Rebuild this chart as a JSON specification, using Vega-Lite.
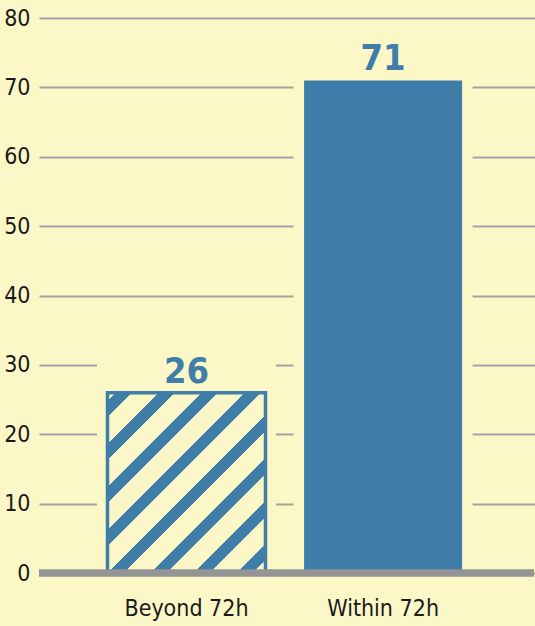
{
  "$schema": "https://vega.github.io/schema/vega-lite/v6.json",
  "width": 496,
  "height": 555,
  "autosize": {"type": "none"},
  "padding": {"left": 39, "top": 18, "right": 0, "bottom": 53},
  "background": "#fbf7c7",
  "config": {
    "view": {"stroke": null},
    "font": "DejaVu Sans Condensed, Liberation Sans Narrow, DejaVu Sans, sans-serif"
  },
  "data": {
    "values": [
      {"category": "Beyond 72h", "value": 26},
      {"category": "Within 72h", "value": 71}
    ]
  },
  "layer": [
    {
      "mark": {"type": "bar", "fill": "#fbf7c7", "stroke": "#fbf7c7", "strokeWidth": 21, "yOffset": -40},
      "encoding": {
        "x": {
          "field": "category", "type": "nominal", "sort": null,
          "scale": {"paddingInner": 0.1963, "paddingOuter": 0.3596, "align": 0.4844},
          "axis": {"domain": false, "ticks": false, "labelAngle": 0, "labelFontSize": 23, "labelColor": "#1a1a1a", "labelPadding": 42, "labelBaseline": "alphabetic", "title": null}
        },
        "y": {
          "field": "value", "type": "quantitative",
          "scale": {"domain": [0, 80], "nice": false},
          "axis": {"values": [0, 10, 20, 30, 40, 50, 60, 70, 80], "grid": true, "gridColor": "#a3a3a3", "gridWidth": 2, "domain": false, "ticks": false, "labelPadding": 9, "labelFontSize": 23, "labelColor": "#1a1a1a", "title": null}
        }
      }
    },
    {
      "transform": [{"filter": "datum.category === 'Beyond 72h'"}],
      "mark": {
        "type": "bar",
        "stroke": "#3f7ea8",
        "strokeWidth": 3.5,
        "fill": {
          "gradient": "linear",
          "x1": 0, "y1": 0, "x2": 0.9286, "y2": 1.0624,
          "stops": [
            {"offset": 0, "color": "#fbf7c7"},
            {"offset": 0.0248, "color": "#fbf7c7"},
            {"offset": 0.0248, "color": "#3f7ea8"},
            {"offset": 0.0721, "color": "#3f7ea8"},
            {"offset": 0.0721, "color": "#fbf7c7"},
            {"offset": 0.152, "color": "#fbf7c7"},
            {"offset": 0.152, "color": "#3f7ea8"},
            {"offset": 0.1993, "color": "#3f7ea8"},
            {"offset": 0.1993, "color": "#fbf7c7"},
            {"offset": 0.2792, "color": "#fbf7c7"},
            {"offset": 0.2792, "color": "#3f7ea8"},
            {"offset": 0.3265, "color": "#3f7ea8"},
            {"offset": 0.3265, "color": "#fbf7c7"},
            {"offset": 0.4064, "color": "#fbf7c7"},
            {"offset": 0.4064, "color": "#3f7ea8"},
            {"offset": 0.4537, "color": "#3f7ea8"},
            {"offset": 0.4537, "color": "#fbf7c7"},
            {"offset": 0.5336, "color": "#fbf7c7"},
            {"offset": 0.5336, "color": "#3f7ea8"},
            {"offset": 0.5809, "color": "#3f7ea8"},
            {"offset": 0.5809, "color": "#fbf7c7"},
            {"offset": 0.6608, "color": "#fbf7c7"},
            {"offset": 0.6608, "color": "#3f7ea8"},
            {"offset": 0.7081, "color": "#3f7ea8"},
            {"offset": 0.7081, "color": "#fbf7c7"},
            {"offset": 0.788, "color": "#fbf7c7"},
            {"offset": 0.788, "color": "#3f7ea8"},
            {"offset": 0.8353, "color": "#3f7ea8"},
            {"offset": 0.8353, "color": "#fbf7c7"},
            {"offset": 0.9152, "color": "#fbf7c7"},
            {"offset": 0.9152, "color": "#3f7ea8"},
            {"offset": 0.9625, "color": "#3f7ea8"},
            {"offset": 0.9625, "color": "#fbf7c7"},
            {"offset": 1, "color": "#fbf7c7"}
          ]
        }
      },
      "encoding": {
        "x": {"field": "category", "type": "nominal", "sort": null},
        "y": {"field": "value", "type": "quantitative"}
      }
    },
    {
      "transform": [{"filter": "datum.category === 'Within 72h'"}],
      "mark": {"type": "bar", "fill": "#3f7ea8"},
      "encoding": {
        "x": {"field": "category", "type": "nominal", "sort": null},
        "y": {"field": "value", "type": "quantitative"}
      }
    },
    {
      "mark": {"type": "rule", "color": "#949494", "strokeWidth": 7, "xOffset": -1, "x2Offset": -5},
      "encoding": {"y": {"datum": 0}}
    },
    {
      "mark": {"type": "text", "color": "#3f7ea8", "fontSize": 36, "fontWeight": "bold", "baseline": "alphabetic", "dy": -10},
      "encoding": {
        "x": {"field": "category", "type": "nominal", "sort": null},
        "y": {"field": "value", "type": "quantitative"},
        "text": {"field": "value", "type": "quantitative"}
      }
    }
  ]
}
